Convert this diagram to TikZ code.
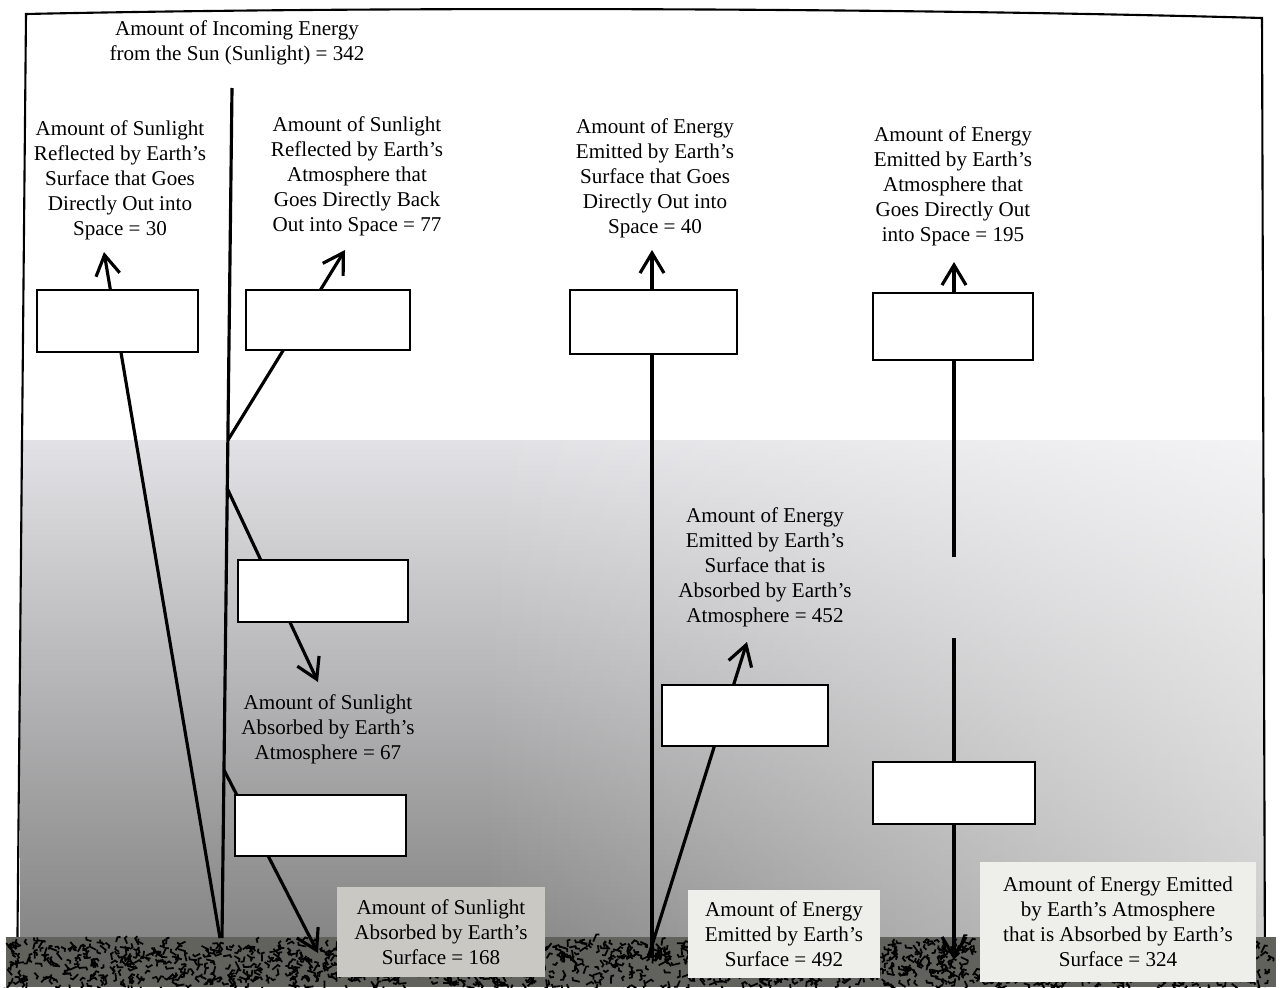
\documentclass[tikz,border=0pt]{standalone}
\usepackage{fontspec}
\setmainfont{Liberation Serif}
\usetikzlibrary{arrows.meta, fadings}

\definecolor{hazetop}{RGB}{226,226,230}
\definecolor{hazemid}{RGB}{182,182,186}
\definecolor{hazelow}{RGB}{134,134,134}
\definecolor{groundgray}{RGB}{98,98,92}
\definecolor{platedark}{RGB}{202,200,194}
\definecolor{platelight}{RGB}{238,238,235}

\tikzfading[name=lighten right, left color=transparent!100, right color=transparent!0]

\begin{document}
\begin{tikzpicture}[
    x=0.02cm, y=-0.02cm,
    flow/.style={line width=1.8pt},
    arrow/.style={flow, -{Straight Barb[length=4mm, width=4.8mm]}},
    blank/.style={rectangle, draw, line width=1.1pt, fill=white, inner sep=0pt, minimum width=3.25cm, minimum height=1.24cm},
    note/.style={align=center, inner sep=0pt, font=\fontsize{12}{14.2}\selectfont},
    grit/.style={black, line width=1pt}
]

\useasboundingbox (0,0) rectangle (1280,987);
\fill[white] (0,0) rectangle (1280,987);

% air gets darker towards the ground
\shade[top color=hazetop, middle color=hazemid, bottom color=hazelow] (20,440) rectangle (1264,938);
\fill[white, path fading=lighten right, fill opacity=0.6] (480,440) rectangle (1264,938);

\draw[line width=1.2pt] (17,987) -- (26,14) .. controls (400,6) and (900,8) .. (1262,18) -- (1265,987);

% ground
\fill[groundgray] (6,937) rectangle (1276,987);
\pgfmathsetseed{2718}
\foreach \k in {1,...,1400}{
  \pgfmathsetmacro\gx{8+1266*rnd}
  \pgfmathsetmacro\gy{941+46*rnd}
  \pgfmathsetmacro\ga{360*rnd}
  \pgfmathsetmacro\gl{3+5*rnd}
  \draw[grit] (\gx,\gy) -- ++(\ga:\gl) -- ++(\ga+70:3);
}

% end points of the flows
\coordinate (sun top) at (232,88);
\coordinate (sun foot) at (222,938);
\coordinate (ref atm) at (228,440);
\coordinate (ref atm tip) at (345,250);
\coordinate (abs atm) at (227,488);
\coordinate (abs atm tip) at (318,682);
\coordinate (abs srf) at (224,770);
\coordinate (abs srf tip) at (318,953);
\coordinate (ref srf) at (220,938);
\coordinate (ref srf tip) at (104,252);
\coordinate (emit srf) at (652,958);
\coordinate (emit srf tip) at (652,250);
\coordinate (emit slant) at (648,958);
\coordinate (emit slant tip) at (747,642);
\coordinate (atm up) at (954,557);
\coordinate (atm up tip) at (954,262);
\coordinate (atm down) at (954,638);
\coordinate (atm down tip) at (954,960);

\draw[flow] (sun top) -- (sun foot);
\draw[arrow] (ref atm) -- (ref atm tip);
\draw[arrow] (abs atm) -- (abs atm tip);
\draw[arrow] (abs srf) -- (abs srf tip);
\draw[arrow] (ref srf) -- (ref srf tip);
\draw[arrow] (emit srf) -- (emit srf tip);
\draw[arrow] (emit slant) -- (emit slant tip);
\draw[arrow] (atm up) -- (atm up tip);
\draw[arrow] (atm down) -- (atm down tip);

% empty boxes
\node[blank, minimum width=3.22cm] (box1) at (117.5,321) {};
\node[blank, minimum width=3.28cm, minimum height=1.2cm] (box2) at (328,320) {};
\node[blank, minimum width=3.4cm] (box3) at (323,591) {};
\node[blank, minimum width=3.42cm, minimum height=1.22cm] (box4) at (320.5,825.5) {};
\node[blank, minimum width=3.34cm, minimum height=1.28cm] (box5) at (653.5,322) {};
\node[blank, minimum width=3.32cm, minimum height=1.22cm] (box6) at (745,715.5) {};
\node[blank, minimum width=3.2cm, minimum height=1.34cm] (box7) at (953,326.5) {};
\node[blank, minimum width=3.24cm] (box8) at (954,793) {};

\node[note] (incoming) at (237,42.5) {Amount of Incoming Energy\\from the Sun (Sunlight) = 342};
\node[note] (refsrf) at (120,180) {Amount of Sunlight\\Reflected by Earth's\\Surface that Goes\\Directly Out into\\Space = 30};
\node[note] (refatm) at (357,176.5) {Amount of Sunlight\\Reflected by Earth's\\Atmosphere that\\Goes Directly Back\\Out into Space = 77};
\node[note] (emitout) at (655,178) {Amount of Energy\\Emitted by Earth's\\Surface that Goes\\Directly Out into\\Space = 40};
\node[note] (atmout) at (953,186) {Amount of Energy\\Emitted by Earth's\\Atmosphere that\\Goes Directly Out\\into Space = 195};
\node[note] (absatm) at (328,729) {Amount of Sunlight\\Absorbed by Earth's\\Atmosphere = 67};
\node[note] (emitabs) at (765,567) {Amount of Energy\\Emitted by Earth's\\Surface that is\\Absorbed by Earth's\\Atmosphere = 452};
\node[note, fill=platedark, minimum width=4.16cm, minimum height=1.8cm] (abssrf) at (441,932) {Amount of Sunlight\\Absorbed by Earth's\\Surface = 168};
\node[note, fill=platelight, minimum width=3.84cm, minimum height=1.76cm] (emittotal) at (784,934) {Amount of Energy\\Emitted by Earth's\\Surface = 492};
\node[note, fill=platelight, minimum width=5.52cm, minimum height=2.4cm] (backrad) at (1118,922) {Amount of Energy Emitted\\by Earth's Atmosphere\\that is Absorbed by Earth's\\Surface = 324};

\end{tikzpicture}
\end{document}
